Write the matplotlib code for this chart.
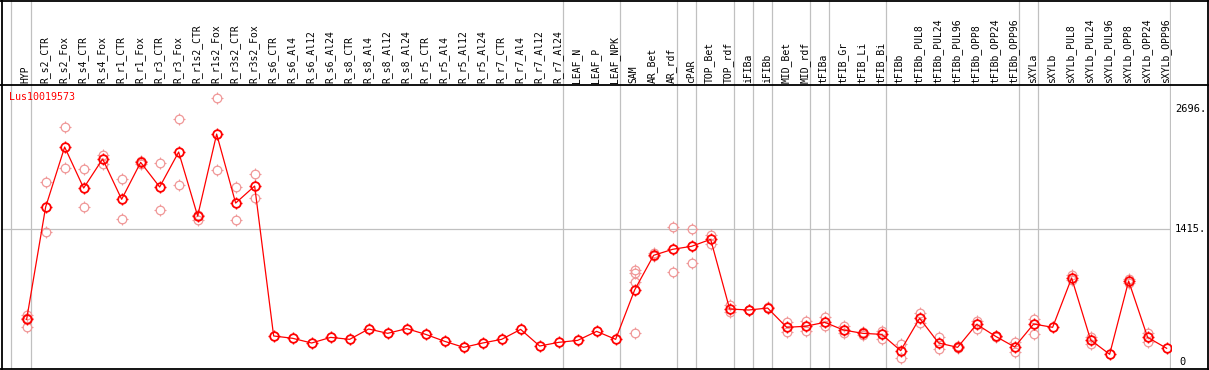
import matplotlib
matplotlib.use('Agg')
import matplotlib.pyplot as plt
from matplotlib.path import Path
from matplotlib.transforms import blended_transform_factory

# sample columns, left to right
samples = ['HYP', 'R_s2_CTR', 'R_s2_Fox', 'R_s4_CTR', 'R_s4_Fox', 'R_r1_CTR', 'R_r1_Fox',
           'R_r3_CTR', 'R_r3_Fox', 'R_r1s2_CTR', 'R_r1s2_Fox', 'R_r3s2_CTR', 'R_r3s2_Fox',
           'R_s6_CTR', 'R_s6_Al4', 'R_s6_Al12', 'R_s6_Al24', 'R_s8_CTR', 'R_s8_Al4',
           'R_s8_Al12', 'R_s8_Al24', 'R_r5_CTR', 'R_r5_Al4', 'R_r5_Al12', 'R_r5_Al24',
           'R_r7_CTR', 'R_r7_Al4', 'R_r7_Al12', 'R_r7_Al24', 'LEAF_N', 'LEAF_P', 'LEAF_NPK',
           'SAM', 'AR_Bet', 'AR_rdf', 'cPAR', 'TOP_Bet', 'TOP_rdf', 'iFIBa', 'iFIBb',
           'MID_Bet', 'MID_rdf', 'tFIBa', 'tFIB_Gr', 'tFIB_Li', 'tFIB_Bi', 'tFIBb',
           'tFIBb_PUL8', 'tFIBb_PUL24', 'tFIBb_PUL96', 'tFIBb_OPP8', 'tFIBb_OPP24',
           'tFIBb_OPP96', 'sXYLa', 'sXYLb', 'sXYLb_PUL8', 'sXYLb_PUL24', 'sXYLb_PUL96',
           'sXYLb_OPP8', 'sXYLb_OPP24', 'sXYLb_OPP96']

# mean expression per sample
means = [454, 1649, 2287, 1851, 2160, 1731, 2124, 1862, 2234, 1553, 2425, 1691, 1872,
         277, 252, 202, 262, 241, 351, 305, 355, 294, 220, 156, 202, 241, 347, 170, 209,
         230, 326, 241,
         766, 1135, 1199, 1231, 1305, 564, 553, 574, 369, 380, 422, 340, 305, 294, 121,
         465, 202, 156, 401, 273, 160, 404, 369, 894, 234, 82, 862, 262, 146]

# single replicate values (faint circles)
replicates = [[497, 376, 470], [1915, 1380], [2500, 2060], [2050, 1649], [2202, 2103],
              [1947, 1518], [2140, 2110], [2113, 1613], [2582, 1880], [1565, 1510],
              [2805, 2039], [1858, 1510], [1997, 1741],
              [], [], [], [], [], [], [], [], [], [], [], [], [], [], [], [],
              [], [], [],
              [305, 979, 950, 854], [1156, 1125], [1433, 954], [1411, 1050], [1355, 1252],
              [610, 529], [558, 548], [580], [422, 316], [439, 333], [482, 388],
              [383, 305], [320, 290], [333, 241], [191, 43], [521, 411], [262, 135],
              [165, 150], [436, 351], [280, 265], [209, 103], [454, 298], [],
              [926, 870], [262, 191], [], [883, 845], [312, 209], []]

# last sample index of each group
group_ends = [0, 28, 31, 34, 35, 37, 38, 39, 41, 42, 45, 52, 53]
y_ticks = [0, 1415, 2696]
gene = 'Lus10019573'

W, H = 1209, 370
GRID = '#c0c0c0'
FONT = 'DejaVu Sans Mono'

fig = plt.figure(figsize=(W / 100, H / 100), dpi=100)


def px_axes(l, t, r, b, **kw):
    return fig.add_axes([l / W, 1 - b / H, (r - l) / W, (b - t) / H], **kw)


ax = px_axes(1, 85, 1171, 369)
hd = px_axes(1, 0, 1171, 85, sharex=ax)
ax.set_xlim(-1.35, 60.23)
ax.set_ylim(-74.5, 2947)
hd.set_ylim(0, 85)
for a in (ax, hd):
    a.axis('off')

# group separators
for xs in [-0.83] + [e + 0.23 for e in group_ends] + [60.2]:
    for a in (ax, hd):
        a.axvline(xs, color=GRID, lw=0.9, zorder=1)
ax.axhline(y_ticks[1], color=GRID, lw=0.9, zorder=1)

# sample labels
for i, s in enumerate(samples):
    hd.text(i - 0.05, 2, s, rotation=90, ha='center', va='bottom',
            fontsize=7, family=FONT)

# markers: open circle with four short ticks
tick_path = Path([(0, 0.75), (0, 1), (0, -0.75), (0, -1), (0.75, 0), (1, 0), (-0.75, 0), (-1, 0)],
                 [Path.MOVETO, Path.LINETO] * 4)

rx = [i for i, r in enumerate(replicates) for _ in r]
ry = [v for r in replicates for v in r]
PINK = '#f09898'
ax.plot(rx, ry, ls='none', marker='o', ms=6.2, mfc='none', mec=PINK, mew=0.9, zorder=2)
ax.plot(rx, ry, ls='none', marker=tick_path, ms=8.2, mfc='none', mec=PINK, mew=0.8, zorder=2)

xs = list(range(len(samples)))
ax.plot(xs, means, color='red', lw=0.9, zorder=3)
ax.plot(xs, means, ls='none', marker='o', ms=6.2, mfc='none', mec='red', mew=1.3, zorder=4)
ax.plot(xs, means, ls='none', marker=tick_path, ms=8.2, mfc='none', mec='red', mew=1.0, zorder=4)

ax.text(-0.95, 2815, gene, color='red', fontsize=7.2, family=FONT,
        ha='left', va='center')

# value labels on the right
tr = blended_transform_factory(ax.transAxes, ax.transData)
for v in y_ticks:
    lab = '0' if v == 0 else f'{v}.'
    ax.text(1.0035 if v else 1.007, v, lab, transform=tr, fontsize=7.5, family=FONT,
            ha='left', va='center', clip_on=False)

# black frame
ov = fig.add_axes([0, 0, 1, 1], facecolor='none')
ov.set_xlim(0, W)
ov.set_ylim(H, 0)
ov.axis('off')
for xy in [([0, W], [0.5, 0.5]), ([0, W], [85, 85]), ([0, W], [369, 369]),
           ([1.5, 1.5], [0, H]), ([1208, 1208], [0, H])]:
    ov.plot(*xy, color='black', lw=1.3)

fig.savefig('out.png', dpi=100)
